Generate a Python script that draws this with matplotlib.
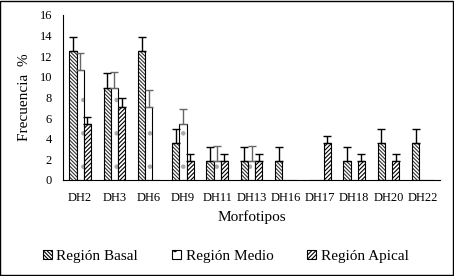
import numpy as np
import matplotlib
matplotlib.use("Agg")
import matplotlib.pyplot as plt
from matplotlib.patches import Rectangle

# Frecuencia de morfotipos por region
morfotipos = ["DH2", "DH3", "DH6", "DH9", "DH11", "DH13", "DH16", "DH17", "DH18", "DH20", "DH22"]
basal = [12.5, 8.9, 12.5, 3.6, 1.8, 1.8, 1.8, 0, 1.8, 3.6, 3.6]
medio = [10.7, 8.9, 7.1, 5.4, 1.8, 1.8, 0, 0, 0, 0, 0]
apical = [5.4, 7.1, 0, 1.8, 1.8, 1.8, 0, 3.6, 1.8, 1.8, 0]
err_basal = [1.4, 1.45, 1.4, 1.35, 1.4, 1.4, 1.4, 0, 1.4, 1.35, 1.35]
err_medio = [1.6, 1.55, 1.6, 1.5, 1.5, 1.5, 0, 0, 0, 0, 0]
err_apical = [0.75, 0.8, 0, 0.7, 0.7, 0.7, 0, 0.7, 0.75, 0.75, 0]

plt.rcParams['font.family'] = ['Liberation Serif', 'DejaVu Serif']
plt.rcParams['hatch.linewidth'] = 0.8

fig = plt.figure(figsize=(4.54, 2.76), dpi=100)
ax = fig.add_axes([0.139, 0.348, 0.83, 0.598])

x = np.arange(len(morfotipos))
w = 0.21

series = [
    (basal, err_basal, -w, "\\" * 9, "black", "#333333", "Región Basal"),
    (medio, err_medio, 0, ".", "#666666", "#aaaaaa", "Región Medio"),
    (apical, err_apical, w, "/" * 8, "black", "black", "Región Apical"),
]

for vals, errs, off, hatch, ecol, hcol, lab in series:
    vals = np.array(vals, dtype=float)
    errs = np.array(errs, dtype=float)
    # hatch drawn in its own colour, outline on top in black
    ax.bar(x + off, vals, w, color="white", edgecolor=hcol, linewidth=0,
           hatch=hatch)
    ax.bar(x + off, vals, w, fill=False, edgecolor="black", linewidth=0.8)
    mask = vals > 0
    ax.errorbar(x[mask] + off, vals[mask], yerr=[np.zeros(mask.sum()), errs[mask]],
                fmt="none", ecolor=ecol, elinewidth=1.0, capsize=3, capthick=1.0)
    ax.bar([0], [0], 0, color="white", edgecolor="black", linewidth=0.8,
           hatch=hatch, label=lab)

ax.set_xlim(-0.5, len(morfotipos) - 0.5)
ax.set_ylim(0, 16)
ax.set_yticks(range(0, 17, 2))
ax.set_xticks(x)
ax.set_xticklabels(morfotipos)
ax.tick_params(axis="both", length=0, labelsize=9)
ax.tick_params(axis="x", pad=9)
ax.tick_params(axis="y", pad=8)
for s in ["top", "right"]:
    ax.spines[s].set_visible(False)
ax.spines["left"].set_linewidth(0.8)
ax.spines["bottom"].set_linewidth(0.8)

ax.set_ylabel("Frecuencia  %", fontsize=11, labelpad=6)
ax.set_xlabel("Morfotipos", fontsize=11, labelpad=4)

fig.legend(loc="center", bbox_to_anchor=(0.497, 0.072), ncol=3, frameon=False,
           fontsize=11, handlelength=0.6, handleheight=0.6, handletextpad=0.3,
           columnspacing=2.2)

fig.add_artist(Rectangle((0.001, 0.002), 0.997, 0.995, transform=fig.transFigure,
                         fill=False, edgecolor="black", linewidth=1.0))

fig.savefig("out.png", dpi=100)
